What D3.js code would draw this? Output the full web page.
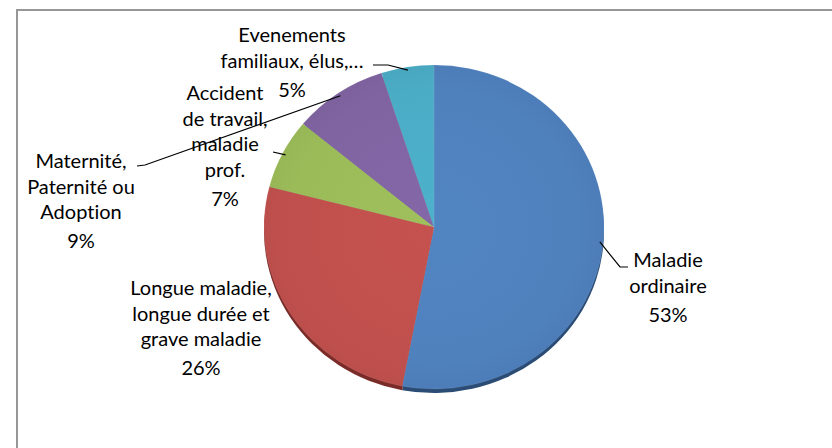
<!DOCTYPE html>
<html><head><meta charset="utf-8">
<script src="https://cdn.jsdelivr.net/npm/d3@7"></script>
<style>html,body{margin:0;padding:0;background:#fff;}svg{display:block;}</style>
</head><body>
<svg id="chart" width="832" height="448"></svg>
<script>
// ---- data ----
const categories = ["Maladie ordinaire", "Longue maladie, longue durée et grave maladie", "Accident de travail, maladie prof.", "Maternité, Paternité ou Adoption", "Evenements familiaux, élus,…"];
const values = [53, 26, 7, 9, 5];
const labelLines = [
  ["Maladie", "ordinaire"],
  ["Longue maladie,", "longue durée et", "grave maladie"],
  ["Accident", "de travail,", "maladie", "prof."],
  ["Maternité,", "Paternité ou", "Adoption"],
  ["Evenements", "familiaux, élus,…"]
];
const colors = ["#4F81BD", "#C0504D", "#9BBB59", "#8064A2", "#4BACC6"];
const rimColors = ["#2B4C74", "#7A2B28", "#5E7A2E", "#4C3A66", "#2C6E80"];

// ---- layout ----
const W = 832, H = 448;
const cx = 434, cy = 227, rx = 170, ry = 162, rim = 4;
const lineH = 25.5, pctGap = 3.5;
// label block anchors: [center x, first baseline]
const labelPos = [[668, 267], [201, 295], [225, 100], [81, 168], [292, 42]];
// leader: text-side points (null = no leader)
const leaderText = [
  [[628, 267], [620, 267]],
  null,
  [[273, 152]],
  [[137, 166], [145, 165]],
  [[373, 65], [388, 65]]
];

const svg = d3.select("#chart");
svg.append("rect").attr("x", 17).attr("y", 10).attr("width", 900).attr("height", 600)
  .attr("fill", "none").attr("stroke", "#979797").attr("stroke-width", 2);

const pie = d3.pie().sort(null).value(d => d)(values);
const arc = d3.arc().innerRadius(0).outerRadius(rx);
const sy = ry / rx;

const defs = svg.append("defs");
colors.forEach((c, i) => {
  const g = defs.append("radialGradient").attr("id", "g" + i)
    .attr("gradientUnits", "userSpaceOnUse").attr("cx", 0).attr("cy", 0).attr("r", rx);
  g.append("stop").attr("offset", "0%").attr("stop-color", d3.color(c).brighter(0.08));
  g.append("stop").attr("offset", "85%").attr("stop-color", c);
  g.append("stop").attr("offset", "100%").attr("stop-color", d3.color(c).darker(0.08));
});

// rim (3D edge)
const rimG = svg.append("g").attr("transform", `translate(${cx},${cy + rim}) scale(1,${sy})`);
rimG.selectAll("path").data(pie).join("path")
  .attr("d", arc).attr("fill", (d, i) => rimColors[i]);

const g = svg.append("g").attr("transform", `translate(${cx},${cy}) scale(1,${sy})`);
g.selectAll("path").data(pie).join("path")
  .attr("d", arc).attr("fill", (d, i) => `url(#g${i})`)
  .attr("stroke", "rgba(255,255,255,0.15)").attr("stroke-width", 0.5);

// leaders
function edgePoint(d) {
  const a = (d.startAngle + d.endAngle) / 2;
  const r = rx * 0.98;
  return [cx + r * Math.sin(a), cy - r * sy * Math.cos(a)];
}
pie.forEach((d, i) => {
  if (!leaderText[i]) return;
  const pts = leaderText[i].concat([edgePoint(d)]);
  svg.append("path").attr("d", d3.line()(pts))
    .attr("fill", "none").attr("stroke", "#000").attr("stroke-width", 1.2);
});

// labels
const total = d3.sum(values);
pie.forEach((d, i) => {
  const [x, y] = labelPos[i];
  const t = svg.append("text").attr("text-anchor", "middle")
    .attr("font-family", "Lato, 'Open Sans', sans-serif").attr("font-size", 20)
    .style("font-variant-ligatures", "none").attr("fill", "#000");
  const lines = labelLines[i];
  lines.forEach((s, k) => {
    t.append("tspan").attr("x", x).attr("y", y + k * lineH).text(s);
  });
  t.append("tspan").attr("x", x).attr("y", y + lines.length * lineH + pctGap)
    .text(Math.round(values[i] / total * 100) + "%");
});
</script>
</body></html>
